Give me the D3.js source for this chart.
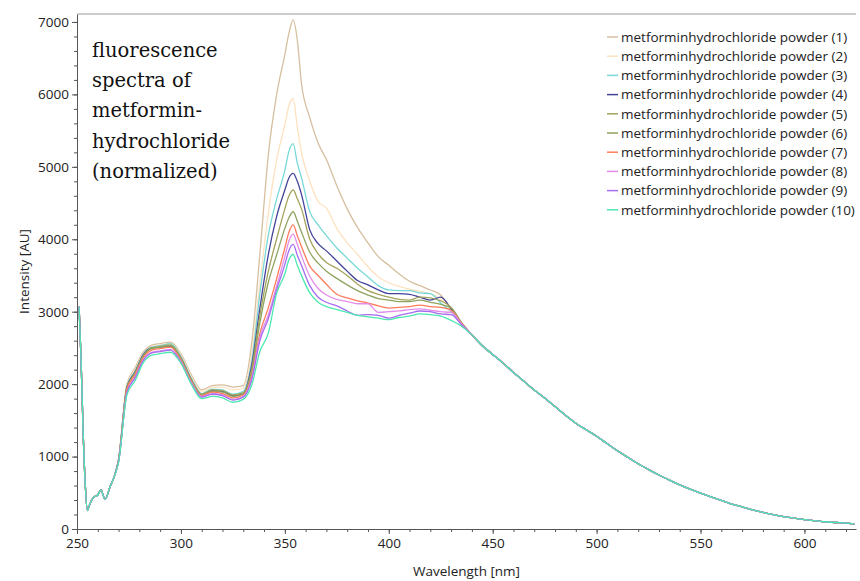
<!DOCTYPE html>
<html>
<head>
<meta charset="utf-8">
<script src="https://cdn.jsdelivr.net/npm/d3@7"></script>
<style>
  body { margin: 0; background: #fff; }
  svg { display: block; }
</style>
</head>
<body>
<script>
// chart size
var width = 860;
var height = 581;

// shared start of the spectra (all powders overlap here)
var headWavelengths = [251, 252, 253, 254, 255, 256, 258, 260, 261.5, 263.5, 266, 268];
var headIntensity   = [3070, 2300, 1300, 600, 255, 330, 440, 470, 540, 410, 590, 730];

// wavelengths where the powders differ
var midWavelengths = [270, 274, 278, 282, 286, 290, 295, 300, 305, 310, 315, 320, 325, 330,
  334, 338, 342, 346, 350, 352, 354, 356, 358, 362, 366, 370, 375, 380, 385, 390, 395,
  400, 405, 410, 415, 420, 425, 430, 435];

var powder1  = [980, 2000, 2230, 2450, 2540, 2560, 2580, 2420, 2130, 1920, 1980, 1990, 1960, 1980,
  2550, 3800, 5150, 5990, 6550, 6850, 7030, 6750, 6150, 5680, 5330, 5100, 4740, 4420, 4160, 3950, 3760,
  3640, 3520, 3420, 3360, 3300, 3230, 3020, 2840];
var powder2  = [970, 1990, 2200, 2430, 2520, 2540, 2560, 2400, 2100, 1900, 1960, 1960, 1920, 1940,
  2400, 3400, 4350, 5090, 5580, 5850, 5940, 5550, 5200, 4800, 4520, 4430, 4150, 3950, 3790, 3620, 3480,
  3400, 3350, 3310, 3280, 3250, 3180, 3040, 2840];
var powder3  = [960, 1970, 2180, 2420, 2510, 2530, 2560, 2380, 2080, 1870, 1930, 1920, 1860, 1900,
  2300, 3250, 4050, 4550, 4950, 5220, 5320, 5050, 4850, 4380, 4200, 4050, 3880, 3740, 3600, 3480, 3360,
  3300, 3290, 3290, 3260, 3250, 3120, 3000, 2830];
var powder4  = [950, 1960, 2170, 2410, 2500, 2510, 2520, 2360, 2060, 1850, 1910, 1900, 1840, 1870,
  2250, 3050, 3780, 4310, 4680, 4850, 4910, 4800, 4620, 4130, 3940, 3840, 3700, 3560, 3430, 3370, 3300,
  3250, 3250, 3240, 3200, 3160, 3200, 3040, 2840];
var powder5  = [950, 1950, 2160, 2400, 2500, 2520, 2540, 2360, 2060, 1860, 1920, 1910, 1850, 1880,
  2200, 2950, 3550, 4000, 4420, 4600, 4680, 4560, 4420, 4000, 3800, 3680, 3600, 3500, 3380, 3290, 3240,
  3200, 3170, 3160, 3200, 3190, 3150, 3060, 2850];
var powder6  = [940, 1940, 2150, 2390, 2490, 2510, 2530, 2350, 2050, 1850, 1900, 1890, 1830, 1860,
  2150, 2850, 3400, 3780, 4150, 4300, 4380, 4250, 4100, 3820, 3670, 3560, 3460, 3370, 3290, 3230, 3180,
  3160, 3140, 3140, 3160, 3130, 3100, 3050, 2850];
var powder7  = [940, 1930, 2130, 2370, 2470, 2490, 2510, 2330, 2040, 1840, 1890, 1870, 1810, 1850,
  2100, 2700, 3050, 3450, 3880, 4100, 4200, 4050, 3900, 3630, 3500, 3380, 3240, 3190, 3150, 3120, 3080,
  3050, 3060, 3070, 3090, 3070, 3060, 3020, 2840];
var powder8  = [930, 1880, 2100, 2340, 2440, 2460, 2480, 2310, 2020, 1830, 1870, 1850, 1790, 1830,
  2080, 2650, 2950, 3350, 3760, 3980, 4070, 3930, 3770, 3490, 3320, 3230, 3170, 3140, 3110, 3110, 2990,
  3000, 3010, 3030, 3040, 3020, 3000, 2990, 2830];
var powder9  = [930, 1880, 2090, 2330, 2430, 2450, 2470, 2300, 2010, 1820, 1860, 1840, 1780, 1820,
  2050, 2600, 2900, 3300, 3650, 3850, 3930, 3780, 3640, 3360, 3200, 3130, 3080, 3010, 2950, 2960, 2950,
  2910, 2950, 2980, 3010, 3000, 2970, 2960, 2820];
var powder10 = [920, 1850, 2050, 2300, 2400, 2420, 2440, 2290, 2000, 1800, 1830, 1810, 1750, 1790,
  1980, 2450, 2700, 3250, 3520, 3720, 3790, 3640, 3500, 3260, 3130, 3070, 3030, 2990, 2950, 2930, 2910,
  2890, 2920, 2940, 2970, 2960, 2940, 2880, 2800];

// shared tail of the spectra
var tailWavelengths = [440, 445, 450, 455, 460, 465, 470, 475, 480, 485, 490, 495, 500, 505, 510, 515,
  520, 525, 530, 535, 540, 545, 550, 555, 560, 565, 570, 575, 580, 585, 590, 595, 600, 605, 610, 615, 620, 624];
var tailIntensity = [2680, 2530, 2410, 2290, 2160, 2040, 1920, 1810, 1690, 1570, 1460, 1370, 1280, 1180, 1080, 990,
  900, 820, 745, 675, 610, 550, 495, 445, 395, 345, 305, 265, 230, 200, 170, 150, 130, 115, 100, 90, 80, 70];

var seriesNames = [
  "metforminhydrochloride powder (1)", "metforminhydrochloride powder (2)",
  "metforminhydrochloride powder (3)", "metforminhydrochloride powder (4)",
  "metforminhydrochloride powder (5)", "metforminhydrochloride powder (6)",
  "metforminhydrochloride powder (7)", "metforminhydrochloride powder (8)",
  "metforminhydrochloride powder (9)", "metforminhydrochloride powder (10)"
];
var seriesValues = [powder1, powder2, powder3, powder4, powder5, powder6, powder7, powder8, powder9, powder10];
var seriesColors = ["#d6bf9f", "#fde2c0", "#78d8d8", "#43439a", "#a4a35c",
                    "#8fa35f", "#ff7b5c", "#e38de8", "#a66cf0", "#4de8b0"];

var xMajor = [250, 300, 350, 400, 450, 500, 550, 600];
var yMajor = [0, 1000, 2000, 3000, 4000, 5000, 6000, 7000];

var noteLines = ["fluorescence", "spectra of", "metformin-", "hydrochloride", "(normalized)"];

// plot area
var plotLeft = 77, plotRight = 856, plotTop = 14, plotBottom = 529;
var font = "'Open Sans', sans-serif";
var fontSize = "13.5px";

var svg = d3.select("body").append("svg")
  .attr("width", width)
  .attr("height", height);

var x = d3.scaleLinear().domain([250, 624.8]).range([plotLeft, plotRight]);
var y = d3.scaleLinear().domain([0, 7110]).range([plotBottom, plotTop]);

// minor ticks
svg.append("g")
  .attr("transform", "translate(0," + plotBottom + ")")
  .call(d3.axisBottom(x).tickValues(d3.range(250, 625, 10)).tickSize(3).tickFormat(""))
  .call(function(g) { g.select(".domain").remove(); g.selectAll("line").attr("stroke", "#555"); });
svg.append("g")
  .attr("transform", "translate(" + plotLeft + ",0)")
  .call(d3.axisLeft(y).tickValues(d3.range(0, 7001, 200)).tickSize(3).tickFormat(""))
  .call(function(g) { g.select(".domain").remove(); g.selectAll("line").attr("stroke", "#555"); });

// major axes
var xAxis = svg.append("g")
  .attr("transform", "translate(0," + plotBottom + ")")
  .call(d3.axisBottom(x).tickValues(xMajor).tickSize(5).tickSizeOuter(0).tickPadding(4));
var yAxis = svg.append("g")
  .attr("transform", "translate(" + plotLeft + ",0)")
  .call(d3.axisLeft(y).tickValues(yMajor).tickFormat(d3.format("d")).tickSize(5).tickSizeOuter(0).tickPadding(3));

[xAxis, yAxis].forEach(function(g) {
  g.select(".domain").attr("stroke", "#555");
  g.selectAll("line").attr("stroke", "#555");
  g.selectAll("text")
    .attr("fill", "#222")
    .style("font-family", font)
    .style("font-size", fontSize);
});

// top frame line
svg.append("line")
  .attr("x1", plotLeft).attr("x2", plotRight)
  .attr("y1", plotTop).attr("y2", plotTop)
  .attr("stroke", "#999");

// axis titles
svg.append("text")
  .attr("x", (plotLeft + plotRight) / 2)
  .attr("y", 576)
  .attr("text-anchor", "middle")
  .style("font-family", font)
  .style("font-size", fontSize)
  .attr("fill", "#222")
  .text("Wavelength [nm]");

svg.append("text")
  .attr("transform", "translate(29," + (plotTop + plotBottom) / 2 + ") rotate(-90)")
  .attr("text-anchor", "middle")
  .style("font-family", font)
  .style("font-size", fontSize)
  .attr("fill", "#222")
  .text("Intensity [AU]");

// build each spectrum from the shared and per-powder parts
function spectrum(values) {
  var pts = [];
  headWavelengths.forEach(function(w, i) { pts.push([w, headIntensity[i]]); });
  midWavelengths.forEach(function(w, i) { pts.push([w, values[i]]); });
  tailWavelengths.forEach(function(w, i) { pts.push([w, tailIntensity[i]]); });
  return pts;
}

var line = d3.line()
  .x(function(d) { return x(d[0]); })
  .y(function(d) { return y(d[1]); })
  .curve(d3.curveMonotoneX);

svg.append("g")
  .selectAll("path")
  .data(seriesValues)
  .enter()
  .append("path")
  .attr("fill", "none")
  .attr("stroke", function(d, i) { return seriesColors[i]; })
  .attr("stroke-width", 1.3)
  .attr("d", function(d) { return line(spectrum(d)); });

// legend
var legend = svg.append("g").attr("transform", "translate(607,37)");
var item = legend.selectAll("g")
  .data(seriesNames)
  .enter()
  .append("g")
  .attr("transform", function(d, i) { return "translate(0," + (i * 19.2) + ")"; });
item.append("line")
  .attr("x1", 0).attr("x2", 11)
  .attr("stroke", function(d, i) { return seriesColors[i]; })
  .attr("stroke-width", 1.5);
item.append("text")
  .attr("x", 14)
  .attr("dy", "0.35em")
  .style("font-family", font)
  .style("font-size", fontSize)
  .attr("fill", "#222")
  .text(function(d) { return d; });

// note in the upper left
svg.append("g")
  .selectAll("text")
  .data(noteLines)
  .enter()
  .append("text")
  .attr("x", 92)
  .attr("y", function(d, i) { return 57 + i * 30.2; })
  .style("font-family", "'DejaVu Serif', serif")
  .style("font-size", "19.5px")
  .attr("fill", "#111")
  .text(function(d) { return d; });
</script>
</body>
</html>
